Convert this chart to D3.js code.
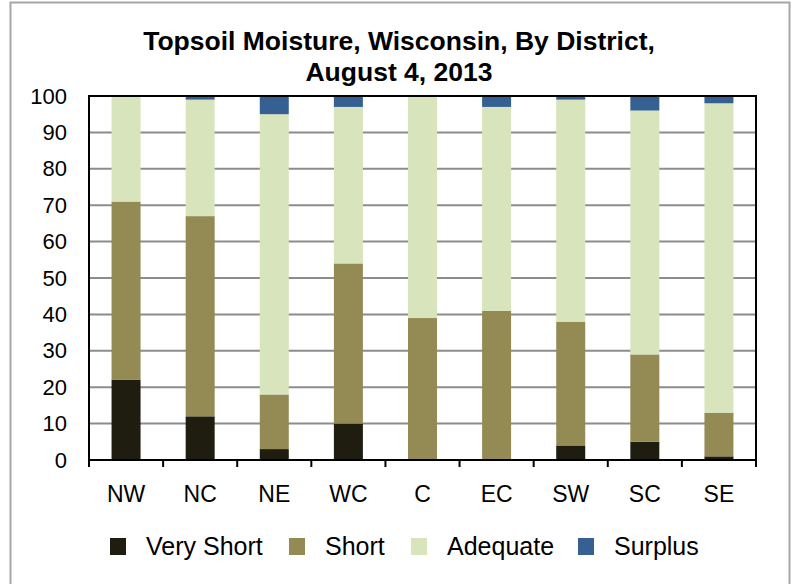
<!DOCTYPE html>
<html>
<head>
<meta charset="utf-8">
<script src="https://cdn.jsdelivr.net/npm/d3@7"></script>
<style>
  body { margin: 0; background: #fff; }
  text { font-family: "Liberation Sans", Arial, sans-serif; }
</style>
</head>
<body>
<div id="chart"></div>
<script>
// Districts and stacked percentages
const districts = ["NW", "NC", "NE", "WC", "C", "EC", "SW", "SC", "SE"];
const veryShort = [22, 12, 3, 10, 0, 0, 4, 5, 1];
const short = [49, 55, 15, 44, 39, 41, 34, 24, 12];
const adequate = [29, 32, 77, 43, 61, 56, 61, 67, 85];
const surplus = [0, 1, 5, 3, 0, 3, 1, 4, 2];
const seriesNames = ["Very Short", "Short", "Adequate", "Surplus"];
const yTicks = [0, 10, 20, 30, 40, 50, 60, 70, 80, 90, 100];

const colors = ["#1f1c10", "#948a54", "#d8e4bc", "#376092"];

const svgWidth = 793, svgHeight = 584;
const margin = { top: 96, right: 37, bottom: 124, left: 89 };
const width = svgWidth - margin.left - margin.right;
const height = svgHeight - margin.top - margin.bottom;

const svg = d3.select("#chart").append("svg")
    .attr("width", svgWidth)
    .attr("height", svgHeight);

// outer frame
svg.append("rect")
    .attr("x", 10.5).attr("y", 2.5)
    .attr("width", 779).attr("height", 600)
    .attr("fill", "none")
    .attr("stroke", "#a6a6a6")
    .attr("stroke-width", 2);

// title
const title = svg.append("text")
    .attr("text-anchor", "middle")
    .style("font-size", "26.5px")
    .style("font-weight", "bold");
title.append("tspan").attr("x", 399).attr("y", 50).text("Topsoil Moisture, Wisconsin, By District,");
title.append("tspan").attr("x", 399).attr("y", 81).text("August 4, 2013");

const table = districts.map((d, i) => ({
    district: d,
    "Very Short": veryShort[i],
    "Short": short[i],
    "Adequate": adequate[i],
    "Surplus": surplus[i]
}));
const stacked = d3.stack().keys(seriesNames)(table);

const x = d3.scaleBand().domain(districts).range([0, width]);
const y = d3.scaleLinear().domain([0, 100]).range([height, 0]);
const barWidth = 29;

const g = svg.append("g")
    .attr("transform", `translate(${margin.left}, ${margin.top})`);

// gridlines
g.append("g")
    .selectAll("line")
    .data(yTicks.filter(t => t > 0 && t < 100))
    .enter().append("line")
    .attr("x1", 0).attr("x2", width)
    .attr("y1", d => y(d)).attr("y2", d => y(d))
    .attr("stroke", "#8c8c8c")
    .attr("stroke-width", 2);

// bars
g.selectAll(".series")
    .data(stacked)
    .enter().append("g")
    .attr("class", "series")
    .attr("fill", (d, i) => colors[i])
    .selectAll("rect")
    .data(d => d)
    .enter().append("rect")
    .attr("x", d => x(d.data.district) + (x.bandwidth() - barWidth) / 2)
    .attr("width", barWidth)
    .attr("y", d => y(d[1]))
    .attr("height", d => y(d[0]) - y(d[1]));

// plot frame
g.append("rect")
    .attr("x", 0).attr("y", 0)
    .attr("width", width).attr("height", height)
    .attr("fill", "none")
    .attr("stroke", "#000")
    .attr("stroke-width", 2);

// y axis
const yAxis = g.append("g")
    .call(d3.axisLeft(y).tickValues(yTicks).tickSize(0).tickPadding(22));
yAxis.select(".domain").remove();
yAxis.selectAll("text")
    .style("font-size", "22px")
    .attr("fill", "#000")
    .attr("font-family", "Liberation Sans, Arial, sans-serif");

// x axis: ticks at band boundaries
const bounds = districts.map(d => x(d)).concat([width]);
g.append("g")
    .selectAll("line")
    .data(bounds)
    .enter().append("line")
    .attr("x1", d => d).attr("x2", d => d)
    .attr("y1", height).attr("y2", height + 7)
    .attr("stroke", "#000")
    .attr("stroke-width", 2);

g.append("g")
    .selectAll("text")
    .data(districts)
    .enter().append("text")
    .attr("x", d => x(d) + x.bandwidth() / 2)
    .attr("y", height + 42)
    .attr("text-anchor", "middle")
    .style("font-size", "23px")
    .text(d => d);

// legend
const legendX = [110, 289, 411, 578];
const legend = svg.append("g")
    .selectAll("g")
    .data(seriesNames)
    .enter().append("g")
    .attr("transform", (d, i) => `translate(${legendX[i]}, 538)`);
legend.append("rect")
    .attr("width", 16).attr("height", 17)
    .attr("fill", (d, i) => colors[i]);
legend.append("text")
    .attr("x", 36).attr("y", 17)
    .style("font-size", "25px")
    .text(d => d);
</script>
</body>
</html>
